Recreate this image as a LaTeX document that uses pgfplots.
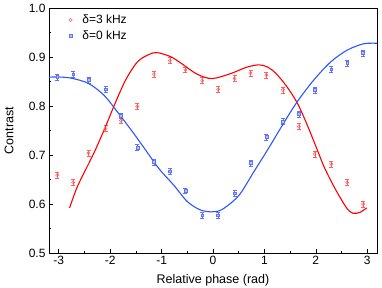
\documentclass[border=0pt]{standalone}
\usepackage{fontspec}
\setmainfont{Liberation Sans}
\usepackage{pgfplots}
\pgfplotsset{compat=1.18}
\definecolor{rline}{RGB}{255,0,0}
\definecolor{bline}{RGB}{45,85,255}
\definecolor{rpt}{RGB}{255,95,95}
\definecolor{bpt}{RGB}{95,115,255}
\begin{document}
\begin{tikzpicture}
\useasboundingbox (-49pt,-34pt) rectangle (333pt,253pt);
\begin{axis}[
  at={(0pt,0pt)}, anchor=south west,
  scale only axis, width=328pt, height=245pt,
  xmin=-3.19, xmax=3.19, ymin=0.5, ymax=1.0,
  xtick={-3,-2,-1,0,1,2,3},
  minor xtick={-2.5,-1.5,-0.5,0.5,1.5,2.5},
  ytick={0.5,0.6,0.7,0.8,0.9,1.0},
  minor ytick={0.55,0.65,0.75,0.85,0.95},
  yticklabel style={/pgf/number format/.cd,fixed,fixed zerofill,precision=1},
  /pgf/number format/assume math mode=true,
  tick align=inside,
  xtick pos=bottom, ytick pos=left,
  major tick length=4pt, minor tick length=2pt,
  tick style={black, line width=0.6pt},
  axis line style={line width=0.8pt},
  ticklabel style={font=\fontsize{12}{14}\selectfont},
  label style={font=\fontsize{12.5}{14}\selectfont},
  xlabel={Relative phase (rad)},
  ylabel={Contrast},
  xlabel style={at={(axis description cs:0.5,0)}, anchor=base, yshift=-30pt},
  ylabel style={at={(axis description cs:-0.122,0.5)}, anchor=center, rotate=0},
  legend style={at={(axis description cs:0.04,0.985)}, anchor=north west, draw=none, fill=none,
    font=\fontsize{12}{14}\selectfont, row sep=1.5pt, inner sep=1pt,
    /tikz/every even column/.append style={column sep=0pt}},
  legend image code/.code={\path (0cm,0cm) (0.58cm,0cm);
    \draw[#1] plot coordinates {(0.25cm,0cm)};},
  legend cell align=left,
  clip=true,
]
\addplot[only marks, mark=o, mark size=1.6pt, draw=rpt, line width=0.5pt,
  error bars/.cd, y dir=both, y explicit,
  error bar style={rpt, line width=0.5pt},
  error mark options={rotate=90, mark size=2pt, rpt, line width=0.5pt}]
  coordinates {
  (-3.03,0.659) +- (0,0.006)
  (-2.72,0.644) +- (0,0.006)
  (-2.42,0.704) +- (0,0.006)
  (-2.09,0.754) +- (0,0.006)
  (-1.79,0.770) +- (0,0.006)
  (-1.47,0.799) +- (0,0.006)
  (-1.15,0.865) +- (0,0.006)
  (-0.84,0.893) +- (0,0.006)
  (-0.535,0.874) +- (0,0.006)
  (-0.21,0.852) +- (0,0.006)
  (0.10,0.834) +- (0,0.006)
  (0.42,0.856) +- (0,0.006)
  (0.73,0.867) +- (0,0.006)
  (1.04,0.863) +- (0,0.006)
  (1.36,0.833) +- (0,0.006)
  (1.67,0.758) +- (0,0.006)
  (1.98,0.702) +- (0,0.006)
  (2.30,0.682) +- (0,0.006)
  (2.61,0.644) +- (0,0.006)
  (2.92,0.600) +- (0,0.006)
  };
\addlegendentry{δ=3 kHz}
\addplot[only marks, mark=square*, mark size=1.4pt, draw=bpt, fill=bpt!45, line width=0.5pt,
  error bars/.cd, y dir=both, y explicit,
  error bar style={bpt, line width=0.5pt},
  error mark options={rotate=90, mark size=2pt, bpt, line width=0.5pt}]
  coordinates {
  (-3.03,0.859) +- (0,0.006)
  (-2.72,0.865) +- (0,0.006)
  (-2.42,0.853) +- (0,0.006)
  (-2.09,0.834) +- (0,0.006)
  (-1.79,0.780) +- (0,0.006)
  (-1.47,0.715) +- (0,0.006)
  (-1.15,0.686) +- (0,0.006)
  (-0.84,0.667) +- (0,0.006)
  (-0.535,0.627) +- (0,0.006)
  (-0.21,0.577) +- (0,0.006)
  (0.10,0.577) +- (0,0.006)
  (0.42,0.622) +- (0,0.006)
  (0.73,0.684) +- (0,0.006)
  (1.04,0.737) +- (0,0.006)
  (1.36,0.768) +- (0,0.006)
  (1.67,0.784) +- (0,0.006)
  (1.98,0.833) +- (0,0.006)
  (2.30,0.875) +- (0,0.006)
  (2.61,0.888) +- (0,0.006)
  (2.92,0.908) +- (0,0.006)
  };
\addlegendentry{δ=0 kHz}
\addplot[rline, line width=1.1pt, smooth, tension=0.5, forget plot] coordinates {
  (-2.79,0.592) (-2.64,0.635) (-2.42,0.682) (-2.29,0.71) (-2.09,0.758)
  (-1.93,0.799) (-1.70,0.853) (-1.47,0.890) (-1.25,0.905) (-1.09,0.909)
  (-0.83,0.901) (-0.63,0.888) (-0.31,0.865) (-0.02,0.856) (0.34,0.866)
  (0.65,0.879) (0.89,0.884) (1.05,0.880) (1.22,0.867) (1.44,0.839) (1.64,0.806)
  (1.83,0.762) (2.03,0.71) (2.16,0.676) (2.33,0.640) (2.48,0.612) (2.62,0.589) (2.73,0.581)
  (2.86,0.583) (2.99,0.592)
};
\addplot[bline, line width=1.1pt, smooth, tension=0.5, forget plot] coordinates {
  (-3.2,0.859) (-2.95,0.859) (-2.74,0.8565) (-2.42,0.846) (-2.12,0.822)
  (-1.86,0.788) (-1.57,0.748) (-1.31,0.71) (-1.05,0.672) (-0.76,0.638)
  (-0.50,0.605) (-0.25,0.588) (-0.02,0.584) (0.18,0.589) (0.5,0.617)
  (0.79,0.665) (1.07,0.712) (1.38,0.766) (1.64,0.809) (1.96,0.853)
  (2.29,0.890) (2.61,0.914) (2.93,0.927) (3.2,0.928)
};
\end{axis}
\end{tikzpicture}
\end{document}
